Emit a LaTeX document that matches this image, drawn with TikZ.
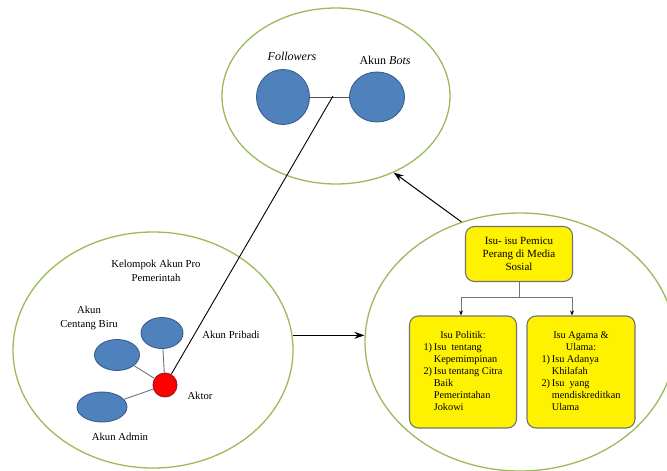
\documentclass[tikz,border=0pt]{standalone}
\usepackage{fontspec}
\setmainfont{Liberation Serif}
\usetikzlibrary{shapes.geometric}
\usetikzlibrary{arrows.meta}
\definecolor{ringgreen}{RGB}{155,187,89}
\definecolor{accountblue}{RGB}{79,129,189}
\definecolor{accountedge}{RGB}{56,93,138}
\definecolor{actorred}{RGB}{255,0,0}
\definecolor{actoredge}{RGB}{160,20,20}
\begin{document}
\begin{tikzpicture}[>={Stealth[length=10pt,width=7pt]}, x=1pt, y=-1pt,
ring/.style={ellipse, draw=ringgreen, line width=1.3pt, inner sep=0},
account/.style={ellipse, draw=accountedge, fill=accountblue, line width=0.9pt, inner sep=0},
actor/.style={circle, draw=actoredge, fill=actorred, line width=0.9pt, inner sep=0, minimum size=24pt},
issue/.style={draw=black!55, fill=yellow, rounded corners=9pt, line width=1.1pt, align=center, inner sep=0},
label/.style={inner sep=0, font=\fontsize{10.7}{14}\selectfont, align=center},
link/.style={black!55, line width=0.9pt},
branch/.style={black!55, line width=0.9pt, -{Stealth[length=5pt,width=4pt,color=black]}},
flow/.style={black, line width=1pt, ->}]
\useasboundingbox (0,0) rectangle (667,471); %%%%%%% SIZE OF THE PICTURE
%%%%%%%%%%%%%%%%%%%%%%% RINGS %%%%%%%%%%%%%%%%%%%%%%%%%%%
\node[ring, minimum width=228pt, minimum height=176pt] (TopRing) at (336,96) {};
\node[ring, minimum width=280pt, minimum height=236pt] (LeftRing) at (153,350) {};
\node[ring, minimum width=310pt, minimum height=258pt] (RightRing) at (520,342) {};
%%%%%%%%%%%%%%%%%%%%%%% TOP: FOLLOWERS AND BOTS %%%%%%%%%%%%%%%%%%%%%%%%%%%
\node[account, minimum width=53pt, minimum height=55pt] (Followers) at (283,97) {};
\node[account, minimum width=55pt, minimum height=50pt] (Bots) at (377,97) {};
\node[label, font=\fontsize{12}{14}\selectfont\itshape] (FollowersText) at (292,56) {Followers};
\node[label, font=\fontsize{12}{14}\selectfont] (BotsText) at (385,60) {Akun \textit{Bots}};
\draw[link, black!70] (Followers) -- (Bots);
\coordinate (BotLink) at (333,96);
%%%%%%%%%%%%%%%%%%%%%%% LEFT: PRO GOVERNMENT ACCOUNTS %%%%%%%%%%%%%%%%%%%%%%%%%%%
\node[label] (GroupText) at (156,271) {Kelompok Akun Pro\\Pemerintah};
\node[account, minimum width=42pt, minimum height=31pt] (Pribadi) at (162,333) {};
\node[account, minimum width=45pt, minimum height=31pt] (Centang) at (117,355) {};
\node[account, minimum width=50pt, minimum height=30pt] (Admin) at (102,407) {};
\node[actor] (Aktor) at (165,385) {};
\node[label] (CentangText) at (89,318) {Akun\\Centang Biru};
\node[label] (PribadiText) at (231,335) {Akun Pribadi};
\node[label] (AktorText) at (200,396) {Aktor};
\node[label] (AdminText) at (120,437) {Akun Admin};
\draw[link] (Pribadi) -- (Aktor);
\draw[link] (Centang) -- (Aktor);
\draw[link] (Admin) -- (Aktor);
\draw[black, line width=0.9pt] (Aktor) -- (BotLink);
%%%%%%%%%%%%%%%%%%%%%%% RIGHT: ISSUES %%%%%%%%%%%%%%%%%%%%%%%%%%%
\node[issue, minimum width=107pt, minimum height=55pt, font=\fontsize{11}{13}\selectfont] (Pemicu) at (519,254)
  {Isu- isu Pemicu\\Perang di Media\\Sosial};
\node[issue, minimum width=107pt, minimum height=112pt, font=\fontsize{10.3}{12}\selectfont] (Politik) at (463,372)
  {\begin{tabular}{@{}r@{\,}l@{}}
   \multicolumn{2}{c}{Isu Politik:}\\
   1) & Isu\ \ tentang\\
      & Kepemimpinan\\
   2) & Isu tentang Citra\\
      & Baik\\
      & Pemerintahan\\
      & Jokowi
   \end{tabular}};
\node[issue, minimum width=108pt, minimum height=112pt, font=\fontsize{10.3}{12}\selectfont] (Agama) at (581,372)
  {\begin{tabular}{@{}r@{\,}l@{}}
   \multicolumn{2}{c}{Isu Agama \&}\\
   \multicolumn{2}{c}{Ulama:}\\
   1) & Isu Adanya\\
      & Khilafah\\
   2) & Isu\ \ yang\\
      & mendiskreditkan\\
      & Ulama
   \end{tabular}};
\coordinate (Split) at (519,297);
\draw[link] (Pemicu) -- (Split);
\draw[branch] (Split) -| ([xshift=-2pt]Politik.north);
\draw[branch] (Split) -| ([xshift=-9pt]Agama.north);
%%%%%%%%%%%%%%%%%%%%%%% ARROWS BETWEEN RINGS %%%%%%%%%%%%%%%%%%%%%%%%%%%
\draw[flow] (LeftRing.6) -- (LeftRing.6 -| RightRing.west);
\draw[flow] (RightRing.116) -- (TopRing.-53);
\end{tikzpicture}
\end{document}
